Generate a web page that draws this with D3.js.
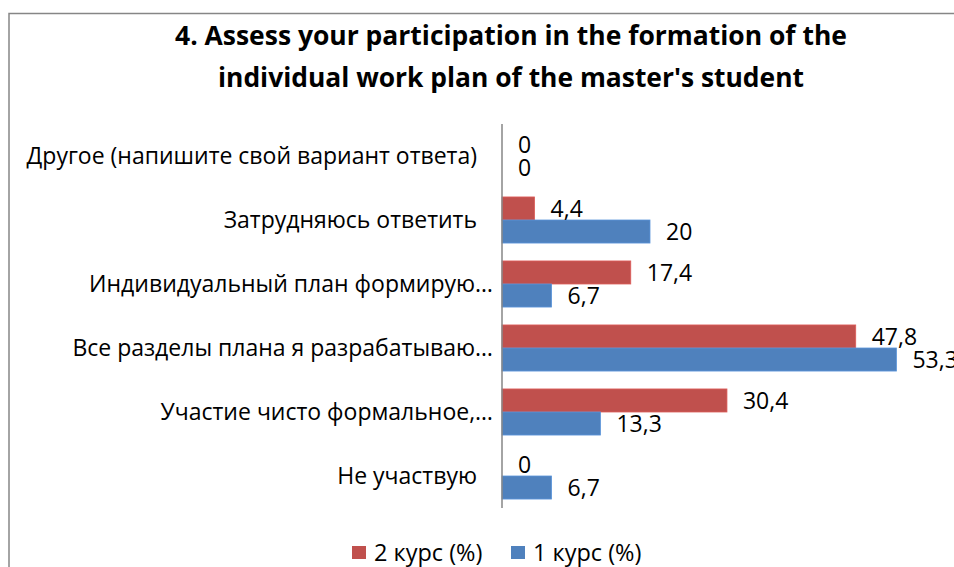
<!DOCTYPE html>
<html>
<head>
<meta charset="utf-8">
<script src="https://cdn.jsdelivr.net/npm/d3@7"></script>
<style>
  html, body { margin: 0; padding: 0; background: #fff; }
  svg text { font-family: "Open Sans", "Noto Sans", sans-serif; fill: #000; }
</style>
</head>
<body>
<svg id="chart" width="954" height="567"></svg>
<script>
  // categories, top to bottom as drawn
  var categories = [
    'Другое (напишите свой вариант ответа)',
    'Затрудняюсь ответить',
    'Индивидуальный план формирую…',
    'Все разделы плана я разрабатываю…',
    'Участие чисто формальное,…',
    'Не участвую'
  ];

  var seriesNames = ['2 курс (%)', '1 курс (%)'];
  var course2 = [0, 4.4, 17.4, 47.8, 30.4, 0];
  var course1 = [0, 20, 6.7, 53.3, 13.3, 6.7];
  var seriesColors = ['#C0504D', '#4F81BD'];

  var titleLines = [
    '4. Assess your participation in the formation of the',
    'individual work plan of the master\'s student'
  ];

  var svg = d3.select('#chart'),
      fmt = function(v) { return String(v).replace('.', ','); },

      x = d3.scaleLinear().domain([0, 60]).range([502, 946]),

      y = d3.scaleBand()
        .domain(categories)
        .range([124, 508])
        .paddingInner(0.28)
        .paddingOuter(0.14),

      ySub = d3.scaleBand()
        .domain(seriesNames)
        .range([0, y.bandwidth()]),

      rows = categories.map(function(c, i) {
        return { cat: c, values: [course2[i], course1[i]] };
      });

  // chart frame (runs off the right and bottom edge like the original)
  svg.append('rect')
    .attr('x', 9).attr('y', 13.5)
    .attr('width', 1000).attr('height', 600)
    .attr('fill', 'none')
    .attr('stroke', '#868686')
    .attr('stroke-width', 1.5);

  // title
  svg.append('g').selectAll('text')
    .data(titleLines)
    .enter()
      .append('text')
      .attr('x', 511)
      .attr('y', function(d, i) { return 45 + i * 42; })
      .attr('text-anchor', 'middle')
      .attr('font-size', 26)
      .attr('font-weight', 'bold')
      .attr('textLength', function(d, i) { return i === 0 ? 672 : 586; })
      .attr('lengthAdjust', 'spacingAndGlyphs')
      .text(function(d) { return d; });

  // bars
  var groups = svg.append('g').selectAll('g')
    .data(rows)
    .enter()
      .append('g')
      .attr('transform', function(d) { return 'translate(0,' + y(d.cat) + ')'; });

  groups.selectAll('rect')
    .data(function(d) { return d.values; })
    .enter()
      .append('rect')
      .attr('x', x(0))
      .attr('y', function(d, i) { return ySub(seriesNames[i]); })
      .attr('width', function(d) { return x(d) - x(0); })
      .attr('height', ySub.bandwidth())
      .attr('fill', function(d, i) { return seriesColors[i]; })
      .attr('stroke', function(d, i) { return d3.color(seriesColors[i]).brighter(0.4); })
      .attr('stroke-width', 0.8);

  groups.selectAll('text.val')
    .data(function(d) { return d.values; })
    .enter()
      .append('text')
      .attr('class', 'val')
      .attr('x', function(d) { return x(d) + 16; })
      .attr('y', function(d, i) { return ySub(seriesNames[i]) + ySub.bandwidth() / 2; })
      .attr('dy', '0.35em')
      .attr('font-size', 23)
      .text(fmt);

  // category labels
  svg.append('g').selectAll('text')
    .data(categories)
    .enter()
      .append('text')
      .attr('x', function(d) { return /…$/.test(d) ? 493 : 477; })
      .attr('y', function(d) { return y(d) + y.bandwidth() / 2; })
      .attr('dy', '0.35em')
      .attr('text-anchor', 'end')
      .attr('font-size', 23)
      .text(function(d) { return d; });

  // value axis line
  svg.append('line')
    .attr('x1', x(0)).attr('x2', x(0))
    .attr('y1', y.range()[0]).attr('y2', y.range()[1])
    .attr('stroke', '#868686')
    .attr('stroke-width', 1.5);

  // legend
  var legendX = [352, 511];
  var legend = svg.append('g').selectAll('g')
    .data(seriesNames)
    .enter()
      .append('g')
      .attr('transform', function(d, i) { return 'translate(' + legendX[i] + ',546)'; });

  legend.append('rect')
    .attr('width', 14).attr('height', 13)
    .attr('fill', function(d, i) { return seriesColors[i]; });

  legend.append('text')
    .attr('x', 22)
    .attr('y', 6.5)
    .attr('dy', '0.35em')
    .attr('font-size', 23.5)
    .text(function(d) { return d; });
</script>
</body>
</html>
